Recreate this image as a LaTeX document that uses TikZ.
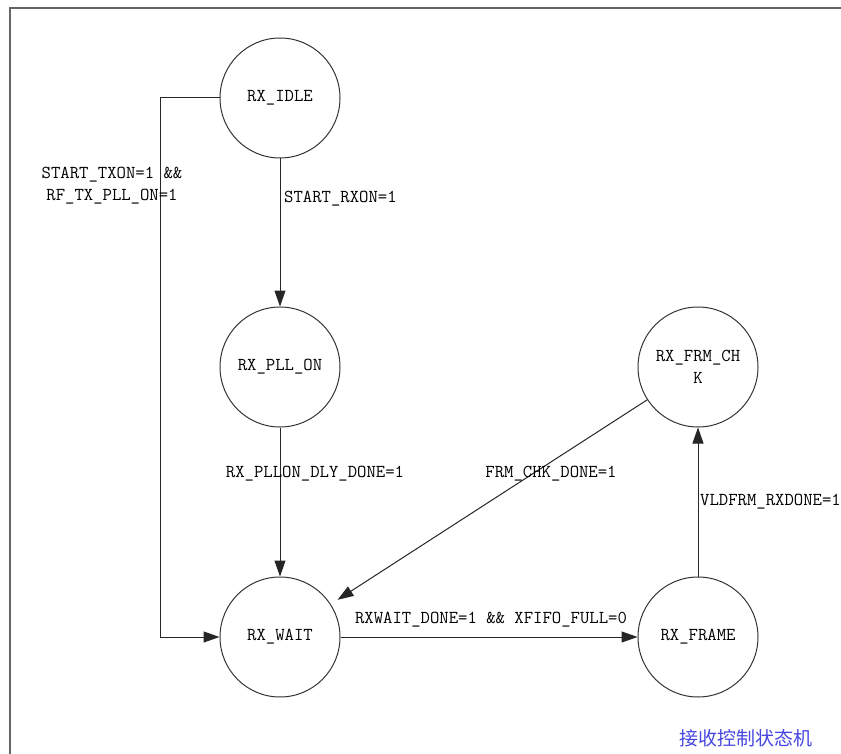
\documentclass[tikz,border=0pt]{standalone}
\usepackage{fontspec}
\newfontfamily\cjk{Noto Sans CJK SC}
\usetikzlibrary{arrows.meta}
\newcommand\lblfont{\ttfamily\fontsize{18.2}{22}\selectfont}
\definecolor{cnblue}{RGB}{70,70,225}
\begin{document}
\begin{tikzpicture}[x=1pt,y=-1pt,
  state/.style={circle,draw=black!80,line width=1pt,minimum size=120pt,inner sep=0pt,font=\lblfont,align=center},
  lab/.style={font=\lblfont,inner sep=0pt,align=center},
  edge/.style={draw=black!85,line width=1pt,-{Triangle[length=16pt,width=11pt]}},
  frameline/.style={draw=black!60,line width=1.8pt}]
\useasboundingbox (0,0) rectangle (841,754);
\draw[frameline] (10,754) -- (10,8) -- (841,8);
\node[state] (idle) at (280,98) {\raisebox{-2pt}{RX\_IDLE}};
\node[state] (pll) at (280,367) {\raisebox{-2pt}{RX\_PLL\_ON}};
\node[state] (wait) at (280,637) {\raisebox{-2pt}{RX\_WAIT}};
\node[state] (frame) at (698,637) {\raisebox{-2pt}{RX\_FRAME}};
\node[state] (chk) at (698,367) {RX\_FRM\_CH\\K};
\coordinate (c1) at (160,98);
\coordinate (c2) at (160,637);
\draw[edge] (idle) -- (pll);
\draw[edge] (pll) -- (wait);
\draw[edge] (wait) -- (frame);
\draw[edge] (frame) -- (chk);
\draw[edge,shorten >=8pt] (chk) -- (wait);
\draw[edge] (idle.west) -- (c1) -- (c2) -- (wait.west);
\node[lab] (l1) at (112,186) {START\_TXON=1 \&\&\\ RF\_TX\_PLL\_ON=1};
\node[lab,anchor=west] (l2) at (284,199) {START\_RXON=1};
\node[lab] (l3) at (315,474) {RX\_PLLON\_DLY\_DONE=1};
\node[lab] (l4) at (551,474) {FRM\_CHK\_DONE=1};
\node[lab] (l5) at (491,620) {RXWAIT\_DONE=1 \&\& XFIFO\_FULL=0};
\node[lab,anchor=west] (l6) at (700,502) {VLDFRM\_RXDONE=1};
\node[inner sep=0pt,text=cnblue,font=\cjk\fontsize{19}{22}\selectfont] (title) at (746,738) {接收控制状态机};
\end{tikzpicture}
\end{document}
